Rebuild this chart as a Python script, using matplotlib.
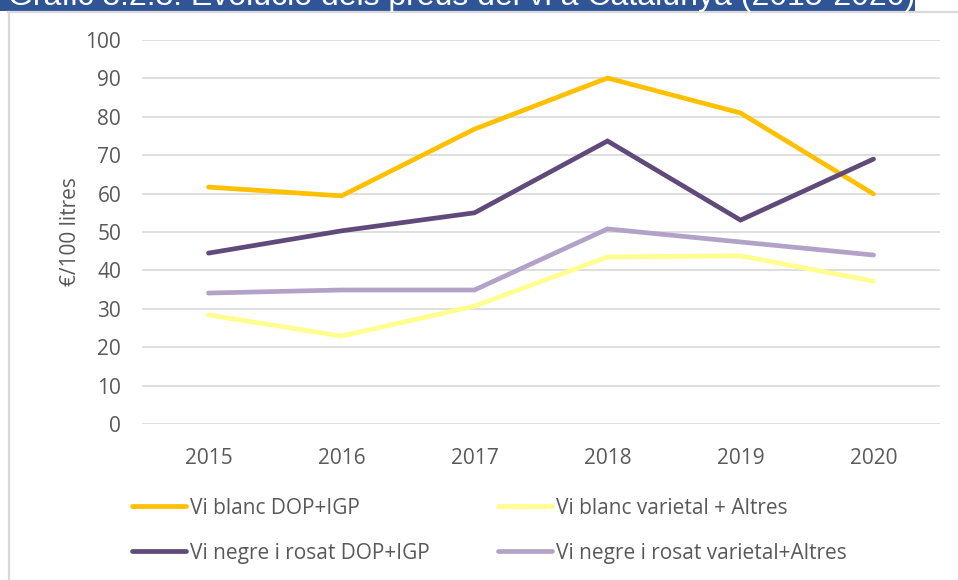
import matplotlib
matplotlib.use('Agg')
import matplotlib.pyplot as plt
from matplotlib.lines import Line2D
from matplotlib.patches import Rectangle

# data
years = ['2015', '2016', '2017', '2018', '2019', '2020']
blanc_dop = [61.7, 59.4, 76.8, 90.1, 81.0, 59.9]
blanc_var = [28.4, 22.9, 30.7, 43.5, 43.8, 37.2]
negre_dop = [44.5, 50.3, 55.0, 73.7, 53.1, 69.0]
negre_var = [34.1, 34.9, 34.9, 50.8, 47.4, 44.0]
yticks = [0, 10, 20, 30, 40, 50, 60, 70, 80, 90, 100]

title = 'Gràfic 8.2.3. Evolució dels preus del vi a Catalunya (2015-2020)'
ylabel = '€/100 litres'
labels = ['Vi blanc DOP+IGP', 'Vi blanc varietal + Altres',
          'Vi negre i rosat DOP+IGP', 'Vi negre i rosat varietal+Altres']
colors = ['#FFC000', '#FFFF8F', '#604A7B', '#B3A2C7']

plt.rcParams['font.family'] = ['Open Sans', 'DejaVu Sans']
W, H = 958, 580
fig = plt.figure(figsize=(W / 100, H / 100), dpi=100)
ax = fig.add_axes([142 / W, 1 - 424 / H, (940 - 142) / W, (424 - 40) / H])

x = list(range(len(years)))
series = [blanc_dop, blanc_var, negre_dop, negre_var]
handles = []
for vals, lab, col in zip(series, labels, colors):
    h, = ax.plot(x, vals, color=col, lw=3.4, solid_capstyle='round',
                 solid_joinstyle='miter', label=lab, zorder=3)
    handles.append(h)

ax.set_xlim(-0.5, len(years) - 0.5)
ax.set_ylim(0, 100)
ax.set_yticks(yticks)
ax.set_xticks(x)
ax.set_xticklabels(years)
ax.grid(axis='y', color='#D9D9D9', lw=1.2)
ax.set_axisbelow(True)
for s in ax.spines.values():
    s.set_visible(False)
ax.tick_params(length=0, labelsize=15, labelcolor='#595959')
ax.tick_params(axis='x', pad=17)
ax.tick_params(axis='y', pad=15)
ax.set_ylabel(ylabel, fontsize=15, color='#595959', labelpad=3)

# legend: two columns, yellow/purple pairs in rows
order = [0, 2, 1, 3]
fig.legend([handles[i] for i in order], [labels[i] for i in order],
           ncol=2, loc='upper left', bbox_to_anchor=(113 / W, 1 - 479 / H),
           frameon=False, fontsize=15, labelcolor='#595959',
           handlelength=2.6, handletextpad=0.2, columnspacing=3.25,
           labelspacing=1.15)

# chart frame (light grey border on left/top)
fig.add_artist(Line2D([8 / W, 1], [1 - 12 / H, 1 - 12 / H], color='#D9D9D9', lw=1.6))
fig.add_artist(Line2D([9 / W, 9 / W], [0, 1 - 12 / H], color='#D9D9D9', lw=1.6))

# title band, cut off at the top of the picture
fig.add_artist(Rectangle((0, 1 - 11 / H), 915 / W, 11 / H, transform=fig.transFigure,
                         facecolor='#2F5597', edgecolor='none'))
fig.text(8 / W, 1 - 5.5 / H, title, color='white', fontsize=23,
         family='Liberation Sans', va='baseline', ha='left')

fig.savefig('out.png', dpi=100, facecolor='white')
